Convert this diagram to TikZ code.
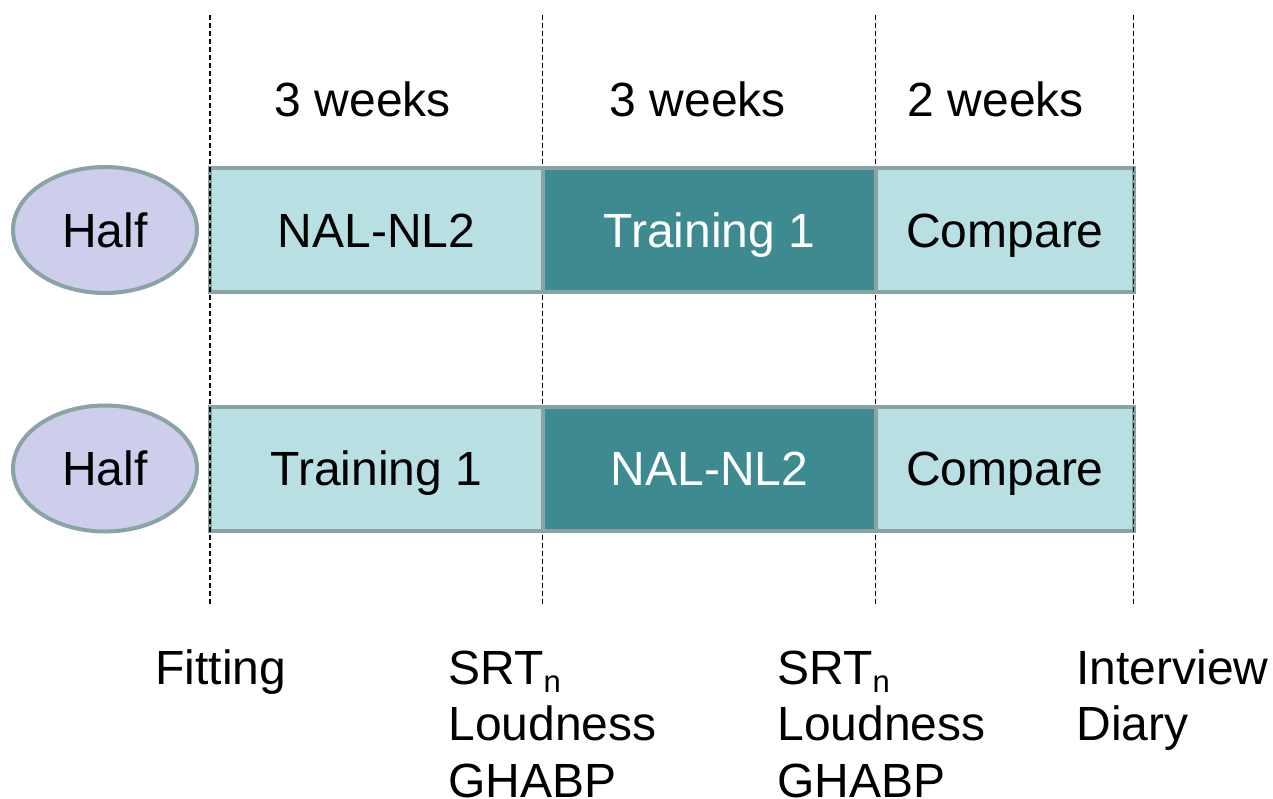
\documentclass[tikz,border=0pt]{standalone}
\usepackage{fontspec}
\setmainfont{Liberation Sans}
\usetikzlibrary{shapes.geometric}
\definecolor{bordercol}{HTML}{8AA4A5}
\definecolor{lightfill}{HTML}{B8E0E3}
\definecolor{darkfill}{HTML}{3D8A90}
\definecolor{ellfill}{HTML}{CDCDEC}
\newcommand{\subn}{\raisebox{-0.18em}{\fontsize{15.5}{15.5}\selectfont n}}
\tikzset{
  txt/.style={font=\fontsize{24}{28}\selectfont, inner sep=0pt},
  capc/.style={txt, text height=17.2pt, text depth=0pt},
  box/.style={capc, draw=bordercol, line width=2pt, fill=lightfill, minimum height=62pt},
  darkbox/.style={box, fill=darkfill, text=white},
  wide/.style={minimum width=166.5pt},
  narrow/.style={minimum width=129pt},
  halfell/.style={capc, ellipse, draw=bordercol, line width=2pt, fill=ellfill, minimum width=92pt, minimum height=63pt},
  divider/.style={line width=0.65pt, dash pattern=on 2.5pt off 1.5pt},
  lbl/.style={txt, anchor=base west}
}
\begin{document}
\begin{tikzpicture}[x=0.5pt,y=-0.5pt]
\useasboundingbox (0,0) rectangle (1273,798);
% divider end points
\coordinate (atop) at (210,15);    \coordinate (abot) at (210,605);
\coordinate (btop) at (542.5,15);  \coordinate (bbot) at (542.5,605);
\coordinate (ctop) at (875.5,15);  \coordinate (cbot) at (875.5,605);
\coordinate (dtop) at (1133.5,15); \coordinate (dbot) at (1133.5,605);
\draw[divider] (atop) -- (abot);
\draw[divider] (btop) -- (bbot);
\draw[divider] (ctop) -- (cbot);
\draw[divider] (dtop) -- (dbot);
% week labels
\node[capc] (w1) at (363,99) {3 weeks};
\node[capc] (w2) at (698,99) {3 weeks};
\node[capc] (w3) at (996,99) {2 weeks};
% top row
\node[halfell] (h1) at (105,230) {Half};
\node[box,wide] (t1) at (376.5,230) {NAL-NL2};
\node[darkbox,wide] (t2) at (709.5,230) {Training 1};
\node[box,narrow] (t3) at (1005,230) {Compare};
% bottom row
\node[halfell] (h2) at (105,468.5) {Half};
\node[box,wide] (b1) at (376.5,468.5) {Training 1};
\node[darkbox,wide] (b2) at (709.5,468.5) {NAL-NL2};
\node[box,narrow] (b3) at (1005,468.5) {Compare};
% outer dividers on top
\draw[divider] (atop) -- (abot);
\draw[divider] (dtop) -- (dbot);
% bottom labels
\node[lbl] (fit) at (155,684) {Fitting};
\node[lbl] (s1a) at (448,684) {SRT\subn};
\node[lbl] (s1b) at (448,740) {Loudness};
\node[lbl] (s1c) at (448,797) {GHABP};
\node[lbl] (s2a) at (777,684) {SRT\subn};
\node[lbl] (s2b) at (777,740) {Loudness};
\node[lbl] (s2c) at (777,797) {GHABP};
\node[lbl] (iv) at (1076,684) {Interview};
\node[lbl] (di) at (1076,740) {Diary};
\end{tikzpicture}
\end{document}
